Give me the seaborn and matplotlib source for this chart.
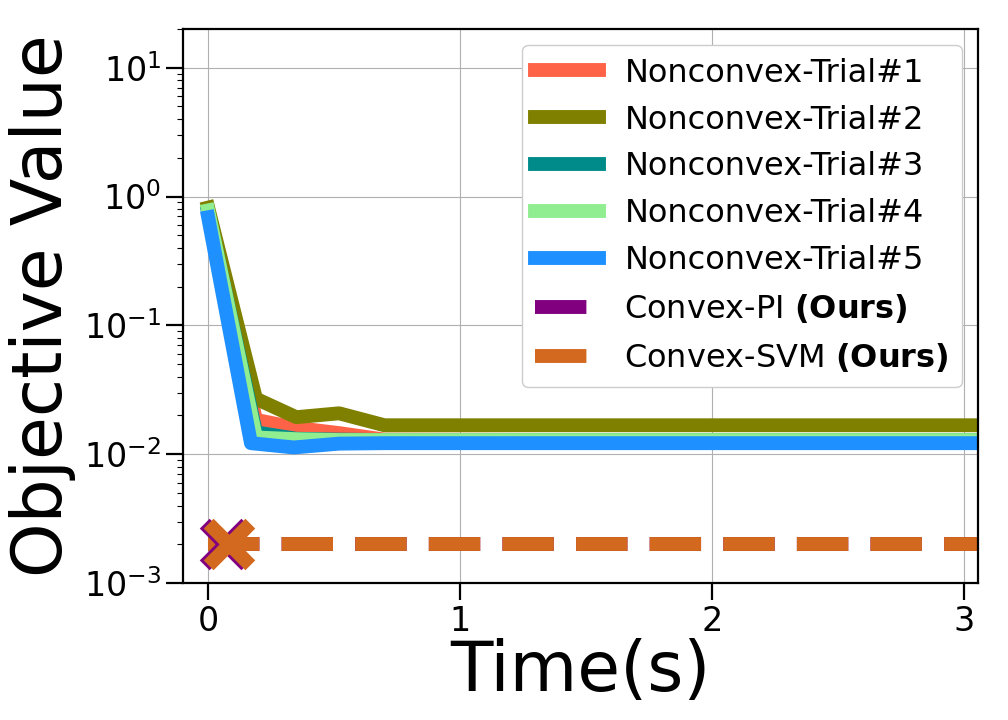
import numpy as np
import pandas as pd
import matplotlib
matplotlib.use('Agg')
import matplotlib.pyplot as plt
import seaborn as sns

# time stamps of the nonconvex trials (s)
t_nc = [0.0, 0.19, 0.35, 0.52, 0.70, 1.5, 2.5, 3.2]
t_nc5 = [0.0, 0.17, 0.34, 0.52, 0.70, 1.5, 2.5, 3.2]
trial1 = [0.78, 0.0185, 0.0160, 0.0146, 0.0130, 0.0129, 0.0129, 0.0129]
trial2 = [0.82, 0.0270, 0.0194, 0.0208, 0.0168, 0.0168, 0.0168, 0.0168]
trial3 = [0.75, 0.0148, 0.0132, 0.0130, 0.0129, 0.0129, 0.0129, 0.0129]
trial4 = [0.78, 0.0135, 0.0131, 0.0129, 0.0129, 0.0129, 0.0129, 0.0129]
trial5 = [0.69, 0.0122, 0.0113, 0.0121, 0.0122, 0.0122, 0.0122, 0.0122]

# convex solvers: horizontal level + solve time
t_line = [0.0, 3.2]
pi_val = 0.002
svm_val = 0.002
pi_time = 0.065
svm_time = 0.083

labels = ['Nonconvex-Trial#1', 'Nonconvex-Trial#2', 'Nonconvex-Trial#3',
          'Nonconvex-Trial#4', 'Nonconvex-Trial#5']
colors = ['tomato', 'olive', 'darkcyan', 'lightgreen', 'dodgerblue']

sns.set_style('white')
plt.rcParams['font.family'] = ['DejaVu Sans']
plt.rcParams['lines.solid_capstyle'] = 'projecting'
plt.rcParams['text.color'] = 'black'
plt.rcParams['axes.labelcolor'] = 'black'
plt.rcParams['xtick.color'] = 'black'
plt.rcParams['ytick.color'] = 'black'

fig = plt.figure(figsize=(10.08, 7.2), dpi=100)
ax = fig.add_axes([0.1815, 0.19, 0.7885, 0.77])

for xs, ys, lab, c in zip([t_nc, t_nc, t_nc, t_nc, t_nc5],
                          [trial1, trial2, trial3, trial4, trial5], labels, colors):
    df = pd.DataFrame({'t': xs, 'v': ys})
    sns.lineplot(data=df, x='t', y='v', ax=ax, color=c, lw=10, label=lab)

sns.lineplot(x=t_line, y=[pi_val, pi_val], ax=ax, color='purple', lw=10,
             linestyle='--', label='Convex-PI $\\bf{(Ours)}$')
sns.lineplot(x=t_line, y=[svm_val, svm_val], ax=ax, color='chocolate', lw=10,
             linestyle='--', label='Convex-SVM $\\bf{(Ours)}$')
sns.scatterplot(x=[pi_time], y=[pi_val], ax=ax, marker='x', s=900, linewidth=10,
                color='purple', zorder=5)
sns.scatterplot(x=[svm_time], y=[svm_val], ax=ax, marker='x', s=900, linewidth=10,
                color='chocolate', zorder=6)

ax.set_yscale('log')
ax.set_ylim(1e-3, 20)
ax.set_xlim(-0.1, 3.056)
ax.set_xticks([0, 1, 2, 3])
ax.grid(True, color='#b0b0b0', lw=0.8)
for s in ax.spines.values():
    s.set_color('black')
    s.set_linewidth(1.6)
ax.tick_params(axis='both', which='major', labelsize=24, length=12, width=1.6,
               direction='out', left=True, bottom=True)
ax.tick_params(axis='y', which='minor', length=4, width=0.8, left=True)
ax.set_xlabel('Time(s)', fontsize=50, labelpad=0)
ax.set_ylabel('Objective Value', fontsize=50, labelpad=6)

ax.legend(loc='upper right', fontsize=23, framealpha=1)

fig.savefig('out.png', dpi=100)
